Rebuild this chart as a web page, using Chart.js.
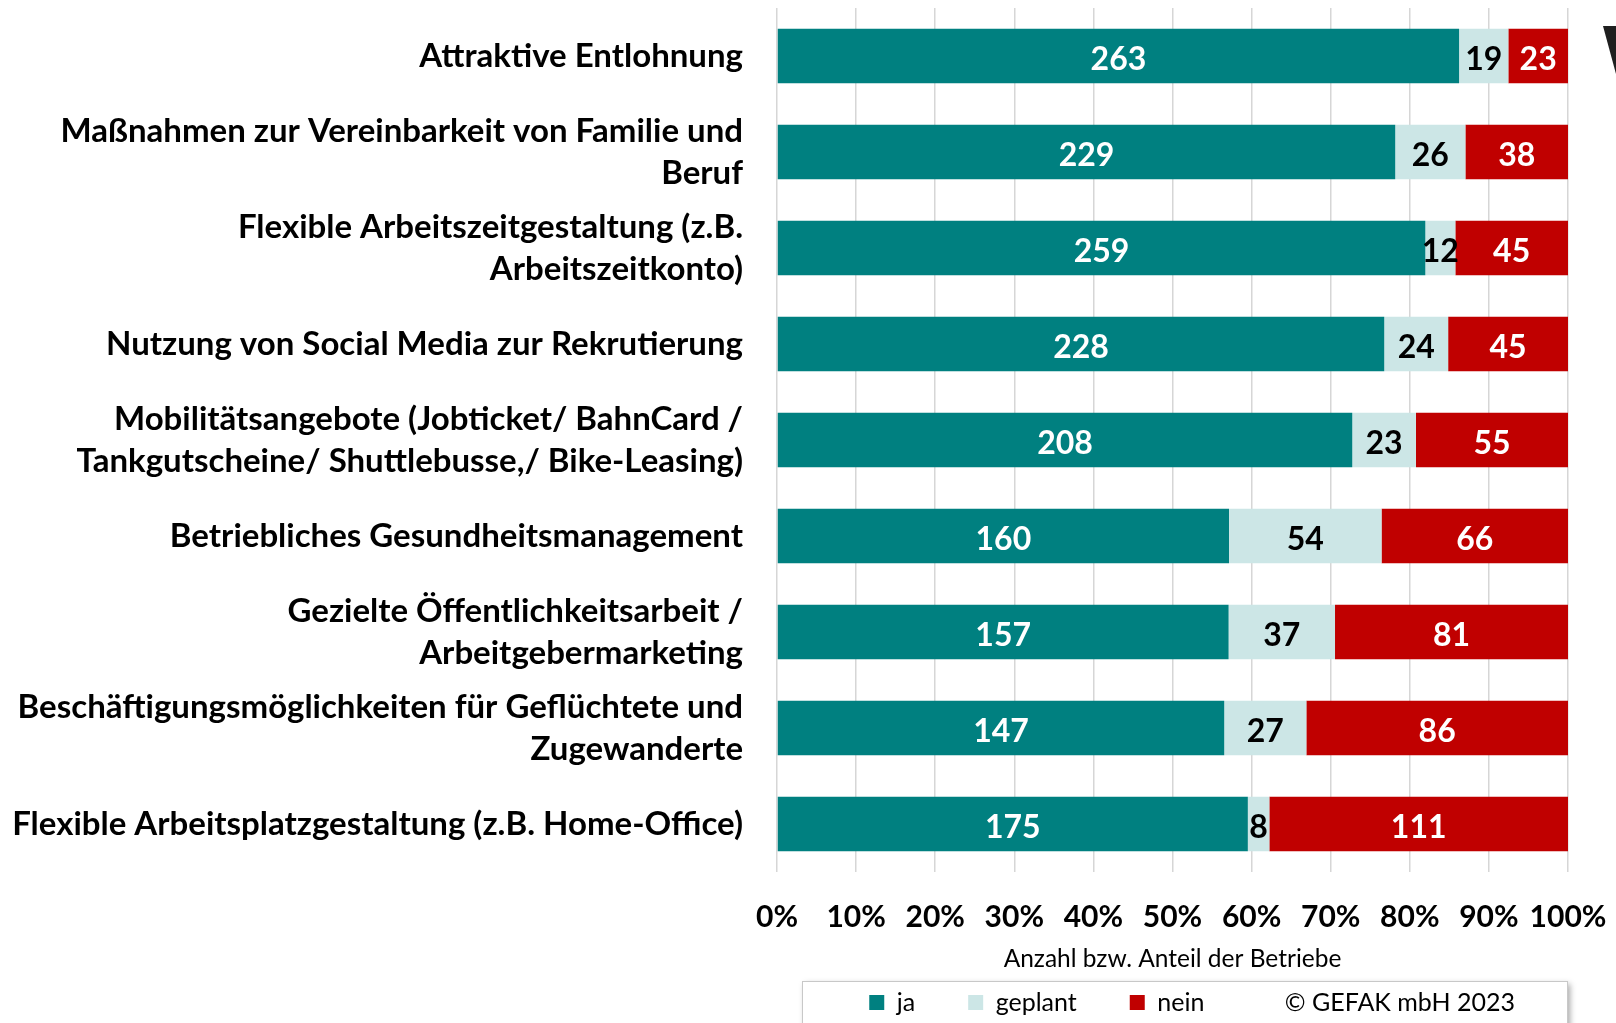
<!DOCTYPE html>
<html>
<head>
<meta charset="utf-8">
<script src="https://cdn.jsdelivr.net/npm/chart.js@4.4.1/dist/chart.umd.min.js"></script>
<style>
  body { margin: 0; background: #fff; }
  #wrap { width: 1616px; height: 1023px; }
</style>
</head>
<body>
<div id="wrap"><canvas id="barChart" width="1616" height="1023"></canvas></div>
<script>
var categories = [
  'Attraktive Entlohnung',
  ['Maßnahmen zur Vereinbarkeit von Familie und', 'Beruf'],
  ['Flexible Arbeitszeitgestaltung (z.B.', 'Arbeitszeitkonto)'],
  'Nutzung von Social Media zur Rekrutierung',
  ['Mobilitätsangebote (Jobticket/ BahnCard /', 'Tankgutscheine/ Shuttlebusse,/ Bike-Leasing)'],
  'Betriebliches Gesundheitsmanagement',
  ['Gezielte Öffentlichkeitsarbeit /', 'Arbeitgebermarketing'],
  ['Beschäftigungsmöglichkeiten für Geflüchtete und', 'Zugewanderte'],
  'Flexible Arbeitsplatzgestaltung (z.B. Home-Office)'
];
var ja      = [263, 229, 259, 228, 208, 160, 157, 147, 175];
var geplant = [19, 26, 12, 24, 23, 54, 37, 27, 8];
var nein    = [23, 38, 45, 45, 55, 66, 81, 86, 111];
var xTicks  = [0, 10, 20, 30, 40, 50, 60, 70, 80, 90, 100];
var copyright = '© GEFAK mbH 2023';

var FONT = 'Lato, "Open Sans", sans-serif';

// share of each answer per row (100% stacked)
function toPercent(arr) {
  return arr.map(function(v, i) {
    return v / (ja[i] + geplant[i] + nein[i]) * 100;
  });
}

var valueLabels = {
  id: 'valueLabels',
  afterDatasetsDraw: function(chart) {
    var ctx = chart.ctx;
    ctx.save();
    ctx.font = 'bold 32px ' + FONT;
    ctx.textAlign = 'center';
    ctx.textBaseline = 'middle';
    chart.data.datasets.forEach(function(ds, d) {
      var meta = chart.getDatasetMeta(d);
      ctx.fillStyle = ds.labelColor;
      meta.data.forEach(function(bar, i) {
        ctx.fillText(ds.counts[i], (bar.x + bar.base) / 2, bar.y + 4);
      });
    });
    ctx.restore();
  }
};

var frame = {
  id: 'frame',
  beforeDraw: function(chart) {
    var ctx = chart.ctx;
    var area = chart.chartArea;
    ctx.save();
    ctx.fillStyle = '#fff';
    ctx.fillRect(0, 0, chart.width, chart.height);
    // legend box with shadow
    var x = area.left + 25, y = chart.legend.top + 44;
    ctx.shadowColor = 'rgba(0,0,0,0.35)';
    ctx.shadowBlur = 6;
    ctx.shadowOffsetX = 3;
    ctx.shadowOffsetY = 3;
    ctx.fillStyle = '#fff';
    ctx.fillRect(x, y, area.right - 1 - x, 80);
    ctx.shadowColor = 'transparent';
    ctx.strokeStyle = '#c8c8c8';
    ctx.lineWidth = 1;
    ctx.strokeRect(x + 0.5, y + 0.5, area.right - 1 - x, 80);
    ctx.restore();
  },
  afterDraw: function(chart) {
    // cut-off logo piece at the top right corner
    var ctx = chart.ctx, w = chart.width;
    ctx.save();
    ctx.fillStyle = '#1f1f1f';
    ctx.beginPath();
    ctx.moveTo(w - 13, 26);
    ctx.lineTo(w, 26);
    ctx.lineTo(w, 74);
    ctx.closePath();
    ctx.fill();
    ctx.restore();
  }
};

function printBarChart(outputId) {
  var ctx = document.getElementById(outputId);
  new Chart(ctx, {
    type: 'bar',
    data: {
      labels: categories,
      datasets: [
        { label: 'ja', data: toPercent(ja), counts: ja, backgroundColor: '#008080', labelColor: '#fff' },
        { label: 'geplant', data: toPercent(geplant), counts: geplant, backgroundColor: '#cce6e6', labelColor: '#000' },
        { label: 'nein', data: toPercent(nein), counts: nein, backgroundColor: '#c00000', labelColor: '#fff' }
      ]
    },
    options: {
      indexAxis: 'y',
      responsive: false,
      animation: false,
      datasets: {
        bar: { categoryPercentage: 1, barPercentage: 0.57, borderWidth: 0 }
      },
      layout: { padding: { top: 8, right: 48, left: 0, bottom: -2 } },
      scales: {
        x: {
          stacked: true,
          min: 0,
          max: 100,
          afterBuildTicks: function(scale) {
            scale.ticks = xTicks.map(function(v) { return { value: v }; });
          },
          afterFit: function(scale) {
            scale.height = 65;
            scale.paddingLeft = 0;
            scale.paddingRight = 0;
          },
          grid: { color: '#d6d6d6', lineWidth: 1.5, drawTicks: false },
          border: { display: false },
          ticks: {
            color: '#000',
            padding: 27,
            maxRotation: 0,
            minRotation: 0,
            autoSkip: false,
            font: { family: FONT, size: 30, weight: 'bold' },
            callback: function(v) { return v + '%'; }
          },
          title: {
            display: true,
            text: 'Anzahl bzw. Anteil der Betriebe',
            color: '#000',
            font: { family: FONT, size: 24.5 },
            padding: { top: 0, bottom: -37 }
          }
        },
        y: {
          stacked: true,
          afterFit: function(scale) {
            scale.width = 777;
            scale.paddingTop = 0;
            scale.paddingBottom = 0;
          },
          grid: { display: false, drawTicks: false },
          border: { display: false },
          ticks: {
            color: '#000',
            padding: 34,
            font: { family: FONT, size: 33, weight: 'bold', lineHeight: 1.27 }
          }
        }
      },
      plugins: {
        tooltip: { enabled: false },
        legend: {
          position: 'bottom',
          align: 'end',
          fullSize: false,
          labels: {
            color: '#000',
            boxWidth: 15,
            boxHeight: 15,
            padding: 53,
            font: { family: FONT, size: 25 },
            generateLabels: function(chart) {
              var items = Chart.defaults.plugins.legend.labels.generateLabels(chart);
              items.push({ text: copyright, fillStyle: 'rgba(0,0,0,0)', strokeStyle: 'rgba(0,0,0,0)', lineWidth: 0, hidden: false, datasetIndex: -1 });
              return items;
            }
          }
        }
      }
    },
    plugins: [valueLabels, frame]
  });
}

function init() {
  printBarChart('barChart');
}

init();
</script>
</body>
</html>
